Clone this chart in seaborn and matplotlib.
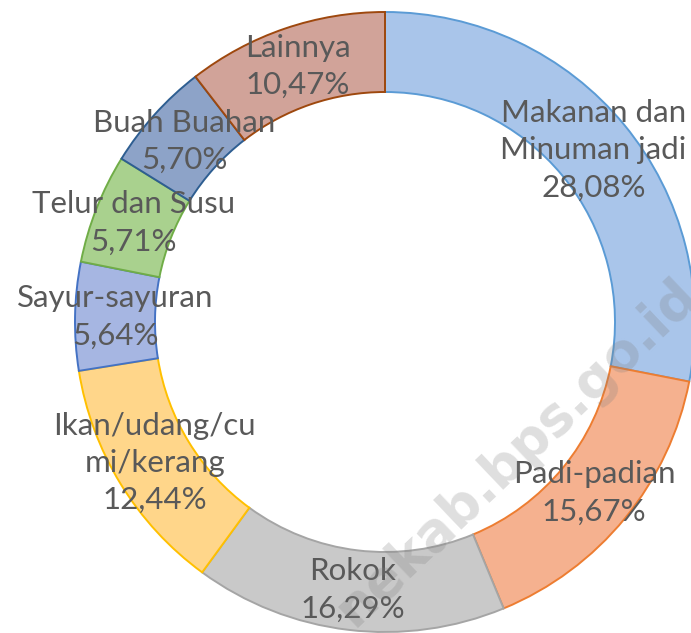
import numpy as np
import matplotlib
matplotlib.use('Agg')
import matplotlib.pyplot as plt
import seaborn as sns

sns.set_theme(style='white')
plt.rcParams['font.family'] = ['Lato', 'DejaVu Sans']

# Data
categories = ['Makanan dan\nMinuman jadi', 'Padi-padian', 'Rokok', 'Ikan/udang/cu\nmi/kerang',
              'Sayur-sayuran', 'Telur dan Susu', 'Buah Buahan', 'Lainnya']
shares = [28.08, 15.67, 16.29, 12.44, 5.64, 5.71, 5.70, 10.47]
pct_labels = ['28,08%', '15,67%', '16,29%', '12,44%', '5,64%', '5,71%', '5,70%', '10,47%']

fills = ['#A9C5EA', '#F5B18F', '#C9C9C9', '#FFD68A', '#A6B6E2', '#A9D18E', '#8DA3C8', '#D1A399']
edges = ['#5B9BD5', '#ED7D31', '#A5A5A5', '#FFC000', '#4472C4', '#70AD47', '#2E5E91', '#9E480E']

W, H = 691, 633
fig = plt.figure(figsize=(W / 100, H / 100), dpi=100)
ax = fig.add_axes([0, 0, 1, 1])

cx, cy, r_out, ring = 385, H - 322, 310, 80
wedges, _ = ax.pie(shares, colors=fills, startangle=90, counterclock=False,
                   center=(cx, cy), radius=r_out,
                   wedgeprops=dict(width=ring, linewidth=1.4))
for w, ec in zip(wedges, edges):
    w.set_edgecolor(ec)

# labels at middle of ring
r_mid = r_out - ring / 2
for w, cat, pct in zip(wedges, categories, pct_labels):
    ang = np.deg2rad((w.theta1 + w.theta2) / 2)
    x = cx + r_mid * np.cos(ang)
    y = cy + r_mid * np.sin(ang)
    ax.text(x, y, cat + '\n' + pct, ha='center', va='center', fontsize=22.5,
            color='#595959', linespacing=1.4)

# watermark
ax.text(517, H - 452, 'nekab.bps.go.id', rotation=43.6, ha='center', va='center',
        fontsize=38, fontweight='bold', family='DejaVu Sans', color='#7f7f7f', alpha=0.25)

ax.set_xlim(0, W)
ax.set_ylim(0, H)
ax.set_aspect('auto')
ax.axis('off')

fig.savefig('out.png', dpi=100, facecolor='white')
